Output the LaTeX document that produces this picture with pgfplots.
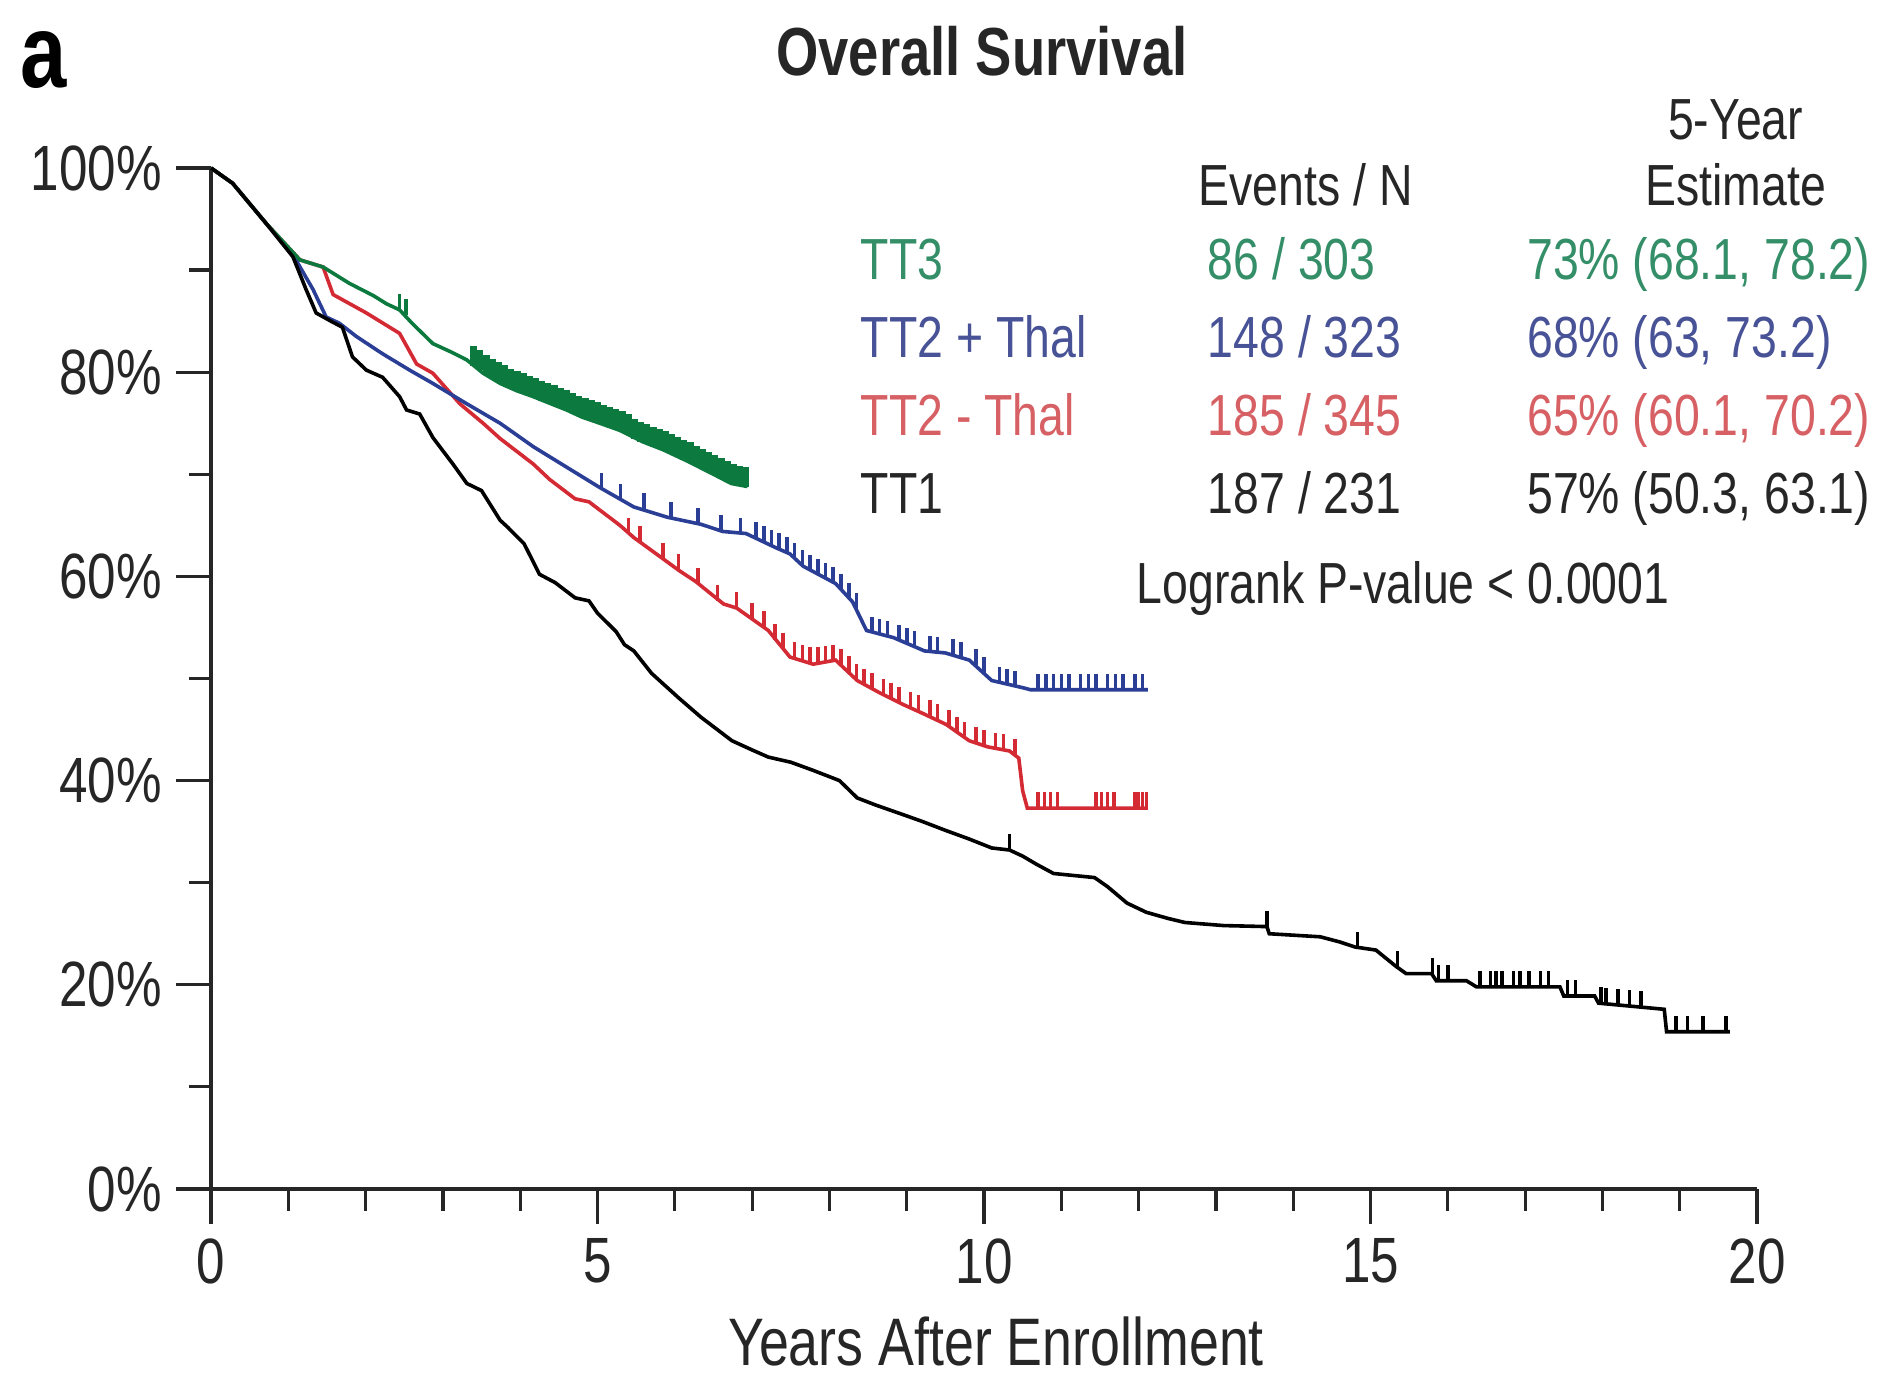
\documentclass[border=0pt]{standalone}
\usepackage{fontspec}
\setmainfont{Liberation Sans}[FakeStretch=0.8]
\usepackage{pgfplots}
\pgfplotsset{compat=1.18}
\definecolor{cgreen}{RGB}{12,122,62}
\definecolor{cblue}{RGB}{42,62,150}
\definecolor{cred}{RGB}{212,42,52}
\definecolor{tgreen}{RGB}{52,142,104}
\definecolor{tblue}{RGB}{72,82,150}
\definecolor{tred}{RGB}{214,96,100}
\pgfdeclareplotmark{cens}{\pgfpathmoveto{\pgfpointorigin}\pgfpathlineto{\pgfpoint{0pt}{4pt}}\pgfusepathqstroke}
\pgfdeclareplotmark{censg}{\pgfpathmoveto{\pgfpointorigin}\pgfpathlineto{\pgfpoint{0pt}{5pt}}\pgfusepathqstroke}
\begin{document}
\begin{tikzpicture}
\path[use as bounding box] (0,0) rectangle (473.75pt,344.5pt);
\begin{axis}[
 at={(52.75pt,47.25pt)}, anchor=south west,
 scale only axis, width=386.5pt, height=255.25pt,
 xmin=0,xmax=20,ymin=0,ymax=100,
 axis x line*=bottom, axis y line*=left,
 axis line style={line width=1pt, black!85},
 xtick={0,5,10,15,20}, xticklabels={0,5,10,15,20},
 minor xtick={1,2,3,4,6,7,8,9,11,12,13,14,16,17,18,19},
 ytick={0,20,40,60,80,100}, yticklabels={0\%,20\%,40\%,60\%,80\%,100\%},
 minor ytick={10,30,50,70,90},
 tick align=outside,
 major tick length=8.8pt, minor tick length=5.5pt,
 tick style={line width=0.8pt, black!85},
 tick label style={font=\fontsize{16}{18}\selectfont, text=black!85},
 clip=false,
]
% TT2 - Thal
\addplot[cred, line width=0.9pt] coordinates {
(0,100)(0.28,98.5)(0.71,94.6)(1.15,91.0)(1.45,90.3)(1.58,87.6)(2.01,85.8)(2.44,83.8)(2.66,80.8)(2.87,79.9)
(3.22,76.9)(3.52,75.0)(3.74,73.5)(4.17,71.0)(4.38,69.5)(4.71,67.6)(4.89,67.3)(5.29,65.0)(5.47,63.8)(5.87,61.6)
(6.05,60.6)(6.27,59.5)(6.63,57.3)(6.8,56.9)(7.21,54.7)(7.49,52.1)(7.79,51.4)(8.08,51.8)(8.36,49.8)(8.65,48.6)
(8.94,47.5)(9.23,46.5)(9.51,45.5)(9.81,43.9)(10.05,43.3)(10.33,42.9)(10.45,42.2)(10.5,39.0)(10.56,37.3)(12.12,37.3)};
\addplot[only marks, mark=cens, cred, mark options={line width=0.9pt}] coordinates {
(5.4,64.2)(5.55,63.4)(5.85,61.7)(6.05,60.6)(6.3,59.3)(6.55,57.6)(6.8,56.9)(7.0,55.8)(7.15,55.0)(7.3,53.8)(7.4,52.9)
(7.55,52.0)(7.65,51.7)(7.75,51.5)(7.85,51.5)(7.95,51.6)(8.05,51.7)(8.15,51.3)(8.25,50.6)(8.35,49.9)(8.45,49.4)
(8.55,49.0)(8.7,48.4)(8.8,48.0)(8.9,47.6)(9.05,47.1)(9.15,46.8)(9.3,46.3)(9.4,45.9)(9.55,45.3)(9.65,44.7)
(9.75,44.2)(9.9,43.7)(10.0,43.4)(10.15,43.1)(10.25,43.0)(10.4,42.5)
(10.7,37.3)(10.78,37.3)(10.86,37.3)(10.95,37.3)(11.45,37.3)(11.52,37.3)(11.6,37.3)(11.68,37.3)(11.95,37.3)(12.0,37.3)(12.05,37.3)(12.1,37.3)};
% TT2 + Thal
\addplot[cblue, line width=0.9pt] coordinates {
(0,100)(0.28,98.5)(0.71,94.6)(1.06,91.5)(1.32,88.1)(1.49,85.4)(1.66,84.8)(1.88,83.5)(2.22,81.8)(2.57,80.2)
(2.87,78.9)(3.31,76.9)(3.74,75.0)(4.17,72.7)(4.60,70.7)(5.03,68.7)(5.47,66.8)(5.9,65.8)(6.34,65.1)(6.62,64.4)
(6.92,64.2)(7.31,62.8)(7.49,62.2)(7.66,61.0)(8.08,59.3)(8.3,57.5)(8.48,54.7)(8.83,54.0)(9.23,52.7)(9.5,52.5)
(9.81,51.8)(10.1,49.8)(10.5,49.1)(10.6,48.9)(12.12,48.9)};
\addplot[only marks, mark=cens, cblue, mark options={line width=0.9pt}] coordinates {
(5.05,68.6)(5.3,67.5)(5.6,66.6)(5.95,65.7)(6.3,65.1)(6.6,64.4)(6.85,64.2)
(7.05,63.8)(7.15,63.4)(7.25,63.0)(7.35,62.7)(7.45,62.3)(7.55,61.7)(7.65,61.0)(7.75,60.5)(7.85,60.1)(7.95,59.7)
(8.05,59.4)(8.15,58.7)(8.25,57.8)(8.35,56.8)(8.55,54.5)(8.65,54.3)(8.75,54.1)(8.9,53.7)(9.0,53.4)(9.1,53.1)
(9.3,52.6)(9.4,52.5)(9.6,52.3)(9.7,52.0)(9.9,51.3)(10.0,50.5)(10.2,49.6)(10.3,49.4)(10.4,49.2)
(10.7,48.9)(10.8,48.9)(10.9,48.9)(11.0,48.9)(11.1,48.9)(11.25,48.9)(11.35,48.9)(11.45,48.9)(11.6,48.9)(11.7,48.9)(11.8,48.9)(11.95,48.9)(12.05,48.9)};
% TT3
\addplot[cgreen, line width=0.9pt] coordinates {
(0,100)(0.28,98.5)(0.71,94.6)(1.15,91.0)(1.45,90.3)(1.79,88.7)(2.1,87.5)(2.27,86.7)(2.44,86.1)(2.6,84.8)
(2.87,82.8)(3.1,82.0)(3.31,81.2)(3.52,79.9)(3.74,78.9)(3.95,78.2)(4.17,77.6)(4.4,76.9)(4.60,76.3)(4.8,75.6)
(5.03,75.0)(5.29,74.3)(5.58,73.2)(5.85,72.4)(6.16,71.3)(6.5,70.0)(6.73,69.1)(6.94,68.8)};
\addplot[only marks, mark=cens, cgreen, mark options={line width=0.9pt}] coordinates {(2.44,86.1)(2.52,85.6)};
\addplot[only marks, mark=censg, cgreen, mark options={line width=1.7pt}] coordinates {
(3.40,80.6)(3.48,80.2)(3.56,79.7)(3.64,79.3)(3.72,79.0)(3.80,78.7)(3.88,78.4)(3.96,78.2)(4.04,78.0)(4.12,77.7)
(4.20,77.5)(4.28,77.2)(4.36,77.0)(4.44,76.8)(4.52,76.5)(4.60,76.3)(4.68,76.0)(4.76,75.7)(4.84,75.5)(4.92,75.3)
(5.00,75.1)(5.08,74.8)(5.16,74.6)(5.24,74.4)(5.32,74.2)(5.40,73.9)(5.48,73.5)(5.56,73.2)(5.64,73.0)(5.72,72.7)
(5.80,72.5)(5.88,72.3)(5.96,72.0)(6.04,71.7)(6.12,71.4)(6.20,71.2)(6.28,70.8)(6.36,70.5)(6.44,70.2)(6.52,69.9)
(6.60,69.6)(6.68,69.3)(6.76,69.0)(6.84,68.9)(6.92,68.8)};
% TT1
\addplot[black, line width=0.9pt] coordinates {
(0,100)(0.28,98.5)(0.71,94.6)(1.06,91.3)(1.23,88.1)(1.36,85.8)(1.55,85.0)(1.70,84.4)(1.83,81.5)(2.01,80.2)
(2.22,79.5)(2.44,77.6)(2.53,76.3)(2.70,75.9)(2.87,73.6)(3.13,71.0)(3.31,69.1)(3.50,68.4)(3.74,65.5)(3.84,64.8)
(4.05,63.2)(4.25,60.2)(4.45,59.4)(4.71,57.9)(4.89,57.6)(5.0,56.4)(5.24,54.6)(5.35,53.3)(5.47,52.7)(5.7,50.5)
(6.05,48.1)(6.34,46.2)(6.74,43.9)(7.0,43.0)(7.21,42.3)(7.5,41.8)(7.79,41.0)(8.13,40.0)(8.36,38.3)(8.6,37.6)
(8.94,36.7)(9.2,36.0)(9.51,35.1)(9.8,34.3)(10.1,33.4)(10.33,33.2)(10.5,32.6)(10.68,31.8)(10.9,30.9)(11.43,30.5)
(11.6,29.6)(11.85,28.0)(12.1,27.1)(12.38,26.5)(12.6,26.1)(13.1,25.8)(13.66,25.7)(13.69,25.0)(14.35,24.7)(14.6,24.2)
(14.8,23.7)(15.07,23.4)(15.2,22.6)(15.33,21.8)(15.46,21.1)(15.79,21.1)(15.85,20.4)(16.24,20.4)(16.37,19.8)(17.45,19.8)
(17.5,18.9)(17.9,18.9)(17.95,18.2)(18.8,17.6)(18.83,15.4)(19.65,15.4)};
\addplot[only marks, mark=cens, black, mark options={line width=0.9pt}] coordinates {
(10.33,33.2)(13.66,25.7)(14.83,23.6)(15.35,21.7)(15.8,21.1)(15.88,20.4)(16.0,20.4)(16.42,19.8)(16.55,19.8)(16.62,19.8)
(16.7,19.8)(16.85,19.8)(16.93,19.8)(17.05,19.8)(17.2,19.8)(17.3,19.8)(17.55,18.9)(17.65,18.9)(17.98,18.2)(18.05,18.1)
(18.2,18.0)(18.35,17.9)(18.5,17.8)(18.95,15.4)(19.1,15.4)(19.3,15.4)(19.6,15.4)};
\end{axis}
% panel letter and title
\node[anchor=base west, inner sep=0, font=\fontsize{26}{28}\selectfont\bfseries] at (5pt,322.5pt) {a};
\node[anchor=base, inner sep=0, font=\fontsize{17}{19}\selectfont\bfseries, text=black!85] at (245.5pt,325.5pt) {Overall Survival};
\node[anchor=base, inner sep=0, font=\fontsize{16.8}{19}\selectfont, text=black!85] at (249pt,3pt) {Years After Enrollment};
% table
\begin{scope}[every node/.style={inner sep=0, font=\fontsize{14.5}{16}\selectfont}]
\node[anchor=base, text=black!85] at (433.9pt,309.5pt) {5-Year};
\node[anchor=base, text=black!85] at (433.9pt,293.1pt) {Estimate};
\node[anchor=base west, text=black!85] at (299.5pt,293.1pt) {Events / N};
\node[anchor=base west, text=tgreen] at (215pt,274.5pt) {TT3};
\node[anchor=base west, text=tgreen] at (301.75pt,274.5pt) {86 / 303};
\node[anchor=base west, text=tgreen] at (381.6pt,274.5pt) {73\% (68.1, 78.2)};
\node[anchor=base west, text=tblue] at (215pt,255pt) {TT2 + Thal};
\node[anchor=base west, text=tblue] at (301.75pt,255pt) {148 / 323};
\node[anchor=base west, text=tblue] at (381.6pt,255pt) {68\% (63, 73.2)};
\node[anchor=base west, text=tred] at (215pt,235.5pt) {TT2 - Thal};
\node[anchor=base west, text=tred] at (301.75pt,235.5pt) {185 / 345};
\node[anchor=base west, text=tred] at (381.6pt,235.5pt) {65\% (60.1, 70.2)};
\node[anchor=base west, text=black!85] at (215pt,216pt) {TT1};
\node[anchor=base west, text=black!85] at (301.75pt,216pt) {187 / 231};
\node[anchor=base west, text=black!85] at (381.6pt,216pt) {57\% (50.3, 63.1)};
\node[anchor=base west, text=black!85] at (284pt,193.5pt) {Logrank P-value < 0.0001};
\end{scope}
\end{tikzpicture}
\end{document}
